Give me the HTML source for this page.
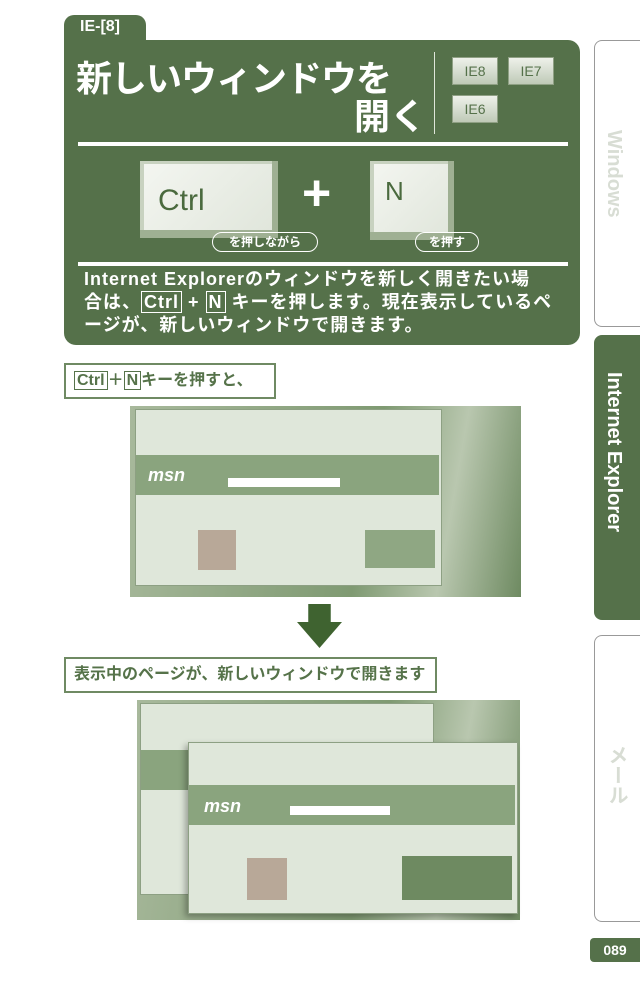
<!DOCTYPE html>
<html><head><meta charset="utf-8"><style>
body{margin:0;width:640px;height:989px;background:#fff;position:relative;overflow:hidden;font-family:"Liberation Sans","Noto Sans CJK JP",sans-serif;}
.a{position:absolute}
.g{background:#55714a}
.w{color:#fff;font-weight:bold}
.key{background:linear-gradient(135deg,#f4f6f1,#dfe5da);box-shadow:inset -6px -8px 0 #9fb093,inset 4px 3px 0 #c8d2c0;color:#4a6a3e}
.ie{background:linear-gradient(#eef1ea,#bfcab7);border:1px solid #8fa084;color:#55714a;font-size:14px;text-align:center;line-height:26px;width:44px;height:26px}
.pill{border:1.5px solid #fff;border-radius:12px;color:#fff;font-weight:bold;font-size:12px;text-align:center;line-height:18px;height:18px}
.tab{border:1px solid #999;border-right:none;border-radius:8px 0 0 8px;left:594px;width:50px}
.vt{writing-mode:vertical-rl;font-weight:bold;font-size:20px;left:602px}
.lab{border:2px solid #6f8a63;color:#56734a;font-weight:bold;font-size:16px;line-height:32px;padding-left:8px;box-sizing:border-box;white-space:nowrap}
.kb{border:1.5px solid #56734a;padding:0 2px}
.shot{background:linear-gradient(100deg,#a8b99c,#7f9a72 60%,#b9c7af 80%,#6e8a61)}
.win{background:#dfe7da;border:1px solid #8da083}
.bt{white-space:nowrap}
</style></head><body>
<div class="a g" style="left:64px;top:15px;width:82px;height:40px;border-radius:10px 10px 0 0"></div>
<div class="a w" style="left:80px;top:18px;font-size:16px">IE-[8]</div>
<div class="a g" style="left:64px;top:40px;width:516px;height:305px;border-radius:0 12px 12px 12px"></div>
<div class="a w bt" style="left:76px;top:50px;font-size:36px;letter-spacing:-1px">新しいウィンドウを</div>
<div class="a w" style="left:354px;top:88px;font-size:36px">開く</div>
<div class="a" style="left:434px;top:52px;width:1px;height:82px;background:#dfe6da"></div>
<div class="a ie" style="left:452px;top:57px">IE8</div>
<div class="a ie" style="left:508px;top:57px">IE7</div>
<div class="a ie" style="left:452px;top:95px">IE6</div>
<div class="a" style="left:78px;top:142px;width:490px;height:4px;background:#fff"></div>
<div class="a key" style="left:140px;top:161px;width:138px;height:77px"></div>
<div class="a" style="left:158px;top:184px;font-size:30px;color:#4a6a3e">Ctrl</div>
<div class="a w" style="left:302px;top:168px;font-size:50px;line-height:50px">+</div>
<div class="a key" style="left:370px;top:161px;width:84px;height:79px"></div>
<div class="a" style="left:385px;top:176px;font-size:26px;color:#4a6a3e">N</div>
<div class="a pill" style="left:212px;top:232px;width:104px">を押しながら</div>
<div class="a pill" style="left:415px;top:232px;width:62px">を押す</div>
<div class="a" style="left:78px;top:262px;width:490px;height:4px;background:#fff"></div>
<div class="a w bt" style="left:84px;top:268px;font-size:18px;line-height:23px;letter-spacing:1px">Internet Explorerのウィンドウを新しく開きたい場<br>合は、<span style="border:1.5px solid #fff;padding:0 2px">Ctrl</span> + <span style="border:1.5px solid #fff;padding:0 2px">N</span> キーを押します。現在表示しているペ<br>ージが、新しいウィンドウで開きます。</div>

<div class="a tab" style="top:40px;height:285px"></div>
<div class="a vt" style="top:130px;color:#d8ddd4">Windows</div>
<div class="a g" style="left:594px;top:335px;width:50px;height:285px;border-radius:8px 0 0 8px"></div>
<div class="a vt w" style="top:372px">Internet Explorer</div>
<div class="a tab" style="top:635px;height:285px"></div>
<div class="a vt" style="top:745px;color:#d8ddd4">メール</div>
<div class="a g w" style="left:590px;top:938px;width:50px;height:24px;border-radius:4px 0 0 4px;font-size:14px;line-height:24px;text-align:center">089</div>

<div class="a lab" style="left:64px;top:363px;width:212px;height:36px"><span class="kb">Ctrl</span>＋<span class="kb">N</span>キーを押すと、</div>
<div class="a shot" style="left:130px;top:406px;width:391px;height:191px"></div>
<div class="a win" style="left:135px;top:409px;width:305px;height:175px"></div>
<div class="a" style="left:136px;top:455px;width:303px;height:40px;background:#8aa47e"></div>
<div class="a w" style="left:148px;top:465px;font-size:18px;font-style:italic">msn</div>
<div class="a" style="left:228px;top:478px;width:112px;height:9px;background:#fff"></div>
<div class="a" style="left:198px;top:530px;width:38px;height:40px;background:#b8a898"></div>
<div class="a" style="left:365px;top:530px;width:70px;height:38px;background:#8fa783"></div>
<div class="a" style="left:297px;top:604px;width:45px;height:20px;background:#3f6330;clip-path:polygon(25% 0,75% 0,75% 100%,25% 100%)"></div>
<div class="a" style="left:297px;top:622px;width:45px;height:26px;background:#3f6330;clip-path:polygon(0 0,100% 0,50% 100%)"></div>
<div class="a lab" style="left:64px;top:657px;width:373px;height:36px">表示中のページが、新しいウィンドウで開きます</div>
<div class="a shot" style="left:137px;top:700px;width:383px;height:220px"></div>
<div class="a win" style="left:140px;top:703px;width:292px;height:190px"></div>
<div class="a" style="left:141px;top:750px;width:290px;height:40px;background:#8aa47e"></div>
<div class="a win" style="left:188px;top:742px;width:328px;height:170px;box-shadow:-3px 3px 6px rgba(0,0,0,.3)"></div>
<div class="a" style="left:189px;top:785px;width:326px;height:40px;background:#8aa47e"></div>
<div class="a w" style="left:204px;top:796px;font-size:18px;font-style:italic">msn</div>
<div class="a" style="left:290px;top:806px;width:100px;height:9px;background:#fff"></div>
<div class="a" style="left:247px;top:858px;width:40px;height:42px;background:#b8a898"></div>
<div class="a" style="left:402px;top:856px;width:110px;height:44px;background:#6e8a61"></div>
</body></html>
